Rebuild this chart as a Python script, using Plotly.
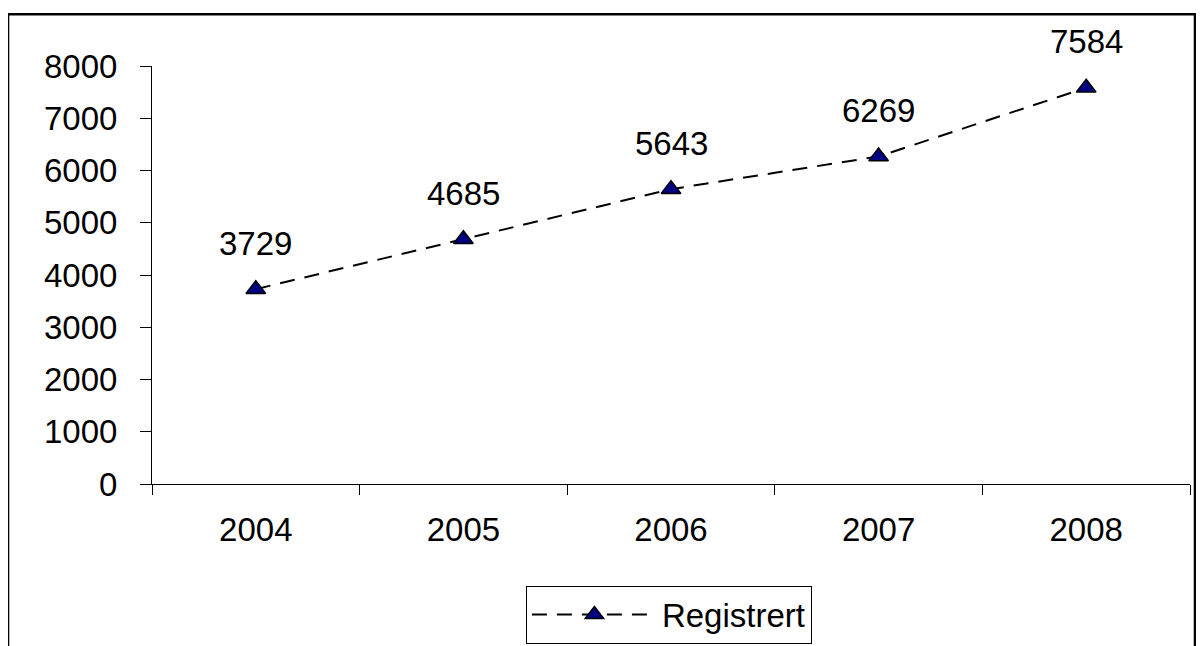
import plotly.graph_objects as go

years = ["2004", "2005", "2006", "2007", "2008"]
registrert = [3729, 4685, 5643, 6269, 7584]
y_ticks = [0, 1000, 2000, 3000, 4000, 5000, 6000, 7000, 8000]
series_name = "Registrert"

FONT = "Liberation Sans, Arial, sans-serif"
FS = 33

fig = go.Figure()
fig.add_trace(go.Scatter(
    x=years, y=registrert, name=series_name, mode="lines+markers",
    line=dict(color="black", width=2, dash="15px,10px"),
    marker=dict(symbol="triangle-up", size=17, color="#000080",
                line=dict(color="black", width=1.5)),
    showlegend=True,
))

for i, v in enumerate(registrert):
    fig.add_annotation(x=i, y=v, xref="x", yref="y", text=str(v),
                       showarrow=False, yshift=46,
                       font=dict(family=FONT, size=FS, color="black"))

# outer frame
fig.add_shape(type="rect", xref="paper", yref="paper",
              x0=-0.1387, x1=1.0048, y0=-0.45, y1=1.1238,
              line=dict(color="black", width=2.5), layer="below")

fig.update_layout(
    width=1188, height=642,
    margin=dict(l=144, r=6, t=58, b=164),
    paper_bgcolor="white", plot_bgcolor="white",
    font=dict(family=FONT, size=FS, color="black"),
    xaxis=dict(type="category", range=[-0.5, 4.5], showgrid=False,
               showline=True, linecolor="black", linewidth=1,
               ticks="outside", tickson="boundaries", ticklen=10,
               tickcolor="black", tickwidth=1,
               tickfont=dict(family=FONT, size=FS), ticklabelstandoff=16),
    yaxis=dict(range=[0, 8000], tickvals=y_ticks, showgrid=False,
               zeroline=False, showline=True, linecolor="black", linewidth=1,
               ticks="outside", ticklen=11, tickcolor="black", tickwidth=1,
               tickfont=dict(family=FONT, size=FS), ticklabelstandoff=16),
    legend=dict(x=0.498, xanchor="center", y=-0.243, yanchor="top",
                bordercolor="black", borderwidth=1, itemwidth=125,
                font=dict(family=FONT, size=FS), bgcolor="white"),
)

fig.write_html("out.html")
